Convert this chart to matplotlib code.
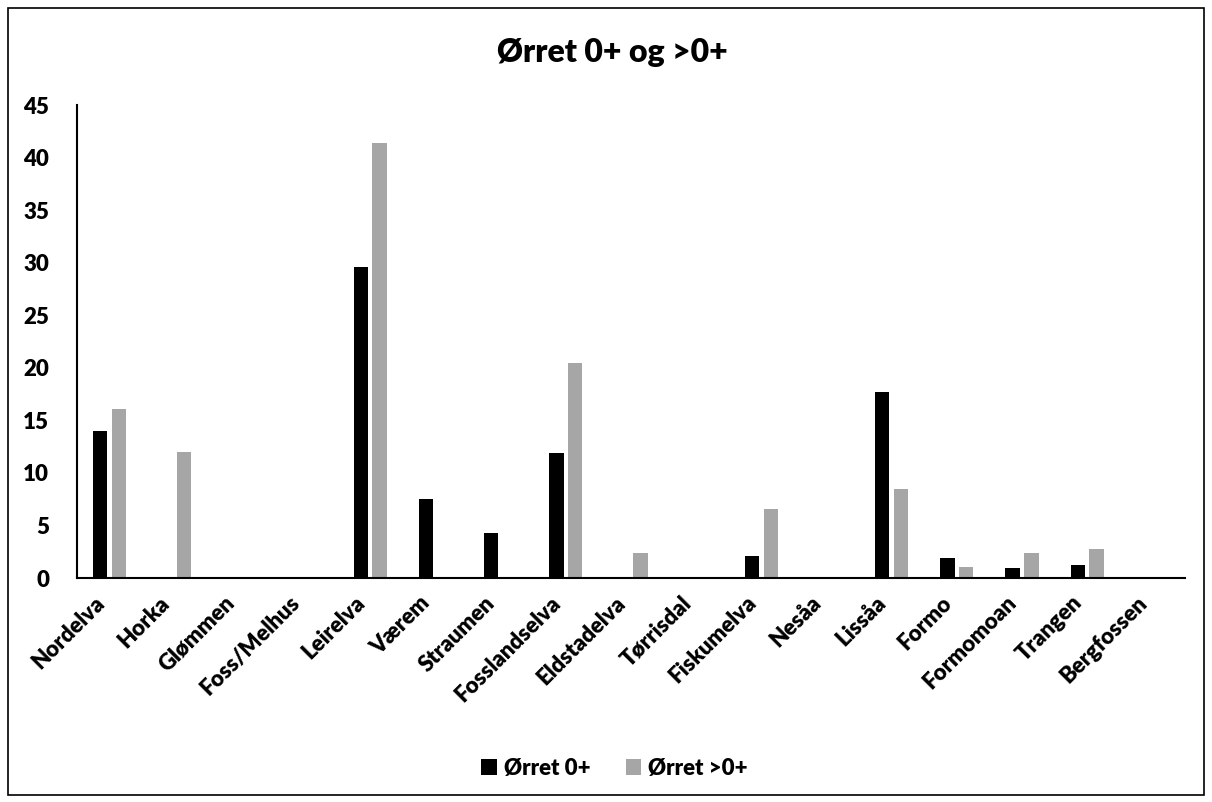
import numpy as np
import matplotlib
matplotlib.use("Agg")
from matplotlib import pyplot as plt
from matplotlib.patches import Rectangle
from matplotlib.transforms import ScaledTranslation

plt.rcParams['font.family'] = ['Lato', 'DejaVu Sans']
plt.rcParams['font.weight'] = 'heavy'

rivers = ["Nordelva", "Horka", "Glømmen", "Foss/Melhus", "Leirelva", "Værem",
          "Straumen", "Fosslandselva", "Eldstadelva", "Tørrisdal", "Fiskumelva",
          "Nesåa", "Lissåa", "Formo", "Formomoan", "Trangen", "Bergfossen"]
orret_0 = [14.0, 0, 0, 0, 29.6, 7.5, 4.3, 11.85, 0, 0, 2.1, 0, 17.7, 1.95, 0.95, 1.2, 0]
orret_gt0 = [16.05, 12.0, 0, 0, 41.4, 0, 0, 20.5, 2.35, 0, 6.6, 0, 8.5, 1.0, 2.35, 2.75, 0]

fig = plt.figure(figsize=(12.12, 8.02), dpi=100)
ax = fig.add_axes([0.0635, 0.2793, 0.9142, 0.5897])

x = np.arange(len(rivers))
w = 0.22
ax.bar(x - 0.144, orret_0, w, color='black', label='Ørret 0+')
ax.bar(x + 0.144, orret_gt0, w, color='#A6A6A6', label='Ørret >0+')

ax.set_xlim(-0.5, len(rivers) - 0.5)
ax.set_ylim(0, 45)
ax.set_yticks(range(0, 46, 5))
ax.set_xticks(x)
ax.set_xticklabels(rivers, rotation=45, ha='right', rotation_mode='anchor',
                   fontsize=16, fontweight='heavy')
ax.tick_params(axis='y', length=0, pad=20, labelsize=16)
ax.tick_params(axis='x', length=0, pad=8)
for lab in ax.get_yticklabels():
    lab.set_fontweight('heavy')
shift = ScaledTranslation(-0.16, -0.03, fig.dpi_scale_trans)
for lab in ax.get_xticklabels():
    lab.set_transform(lab.get_transform() + shift)

for s in ['top', 'right']:
    ax.spines[s].set_visible(False)
ax.spines['left'].set_linewidth(1.5)
ax.spines['bottom'].set_linewidth(1.5)

fig.text(0.505, 0.935, 'Ørret 0+ og >0+', ha='center', va='center',
         fontsize=23, fontweight='heavy')

fig.legend(loc='center', bbox_to_anchor=(0.507, 0.042), ncol=2, frameon=False,
           prop={'size': 16, 'weight': 'heavy'}, handlelength=0.7, handleheight=0.7,
           handletextpad=0.3, columnspacing=1.6)

fig.patches.append(Rectangle((0.007, 0.009), 0.986, 0.981, transform=fig.transFigure,
                             fill=False, edgecolor='black', linewidth=1.2))

fig.savefig('out.png', dpi=100)
